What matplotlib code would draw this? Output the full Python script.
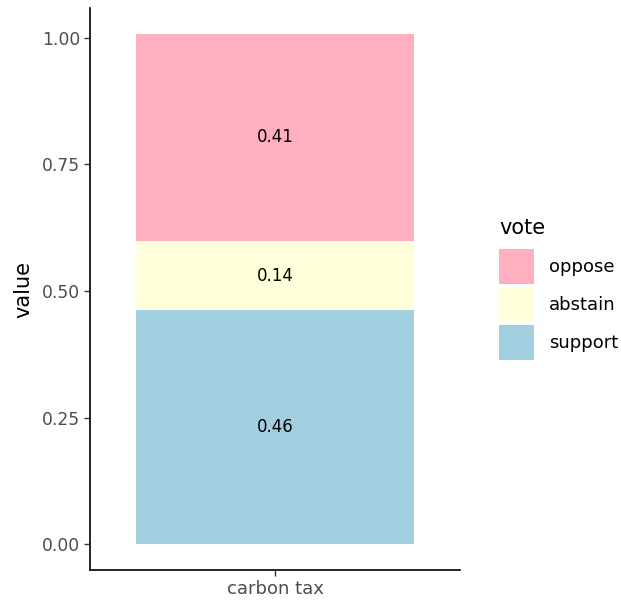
import matplotlib
matplotlib.use("Agg")
import matplotlib.pyplot as plt
from matplotlib.patches import Patch

plt.rcParams['font.family'] = ['DejaVu Sans']

category = "carbon tax"
votes = ["support", "abstain", "oppose"]
values = [0.462, 0.136, 0.41]
colors = {"oppose": "#FFAFC0", "abstain": "#FFFFDC", "support": "#A1CFE0"}
legend_order = ["oppose", "abstain", "support"]
yticks = [0.0, 0.25, 0.50, 0.75, 1.00]
ytick_labels = ["0.00", "0.25", "0.50", "0.75", "1.00"]

fig = plt.figure(figsize=(6.21, 6.05), dpi=100)
ax = fig.add_axes([90/621, 35/605, 370/621, 562/605])

bottom = 0.0
for v, val in zip(votes, values):
    ax.bar([0], [val], bottom=bottom, width=0.9, color=colors[v], linewidth=0)
    ax.text(0, bottom + val/2, f"{val:.2f}", ha="center", va="center", fontsize=12, color="black")
    bottom += val

total = sum(values)
ax.set_ylim(-0.05*total, total*1.05)
ax.set_xlim(-0.6, 0.6)
ax.set_xticks([0])
ax.set_xticklabels([category])
ax.set_yticks(yticks)
ax.set_yticklabels(ytick_labels)
ax.tick_params(axis="both", colors="#333333", labelcolor="#4D4D4D", labelsize=12.3, length=4, width=1)
ax.tick_params(axis="x", labelsize=13, pad=3)
ax.tick_params(axis="y", pad=3)
for s in ["top", "right"]:
    ax.spines[s].set_visible(False)
for s in ["left", "bottom"]:
    ax.spines[s].set_linewidth(1.2)
    ax.spines[s].set_color("black")
ax.set_ylabel("value", fontsize=15, color="black", labelpad=6)

handles = [Patch(facecolor=colors[v], edgecolor="none", label=v) for v in legend_order]
leg = fig.legend(handles=handles, loc="upper left", bbox_to_anchor=(499/621, 1 - 249/605),
                 borderaxespad=0, borderpad=0,
                 frameon=False, fontsize=13, handlelength=1.94, handleheight=2.6,
                 handletextpad=0.82, labelspacing=0.17)
fig.text(499/621, 1 - 228/605, "vote", ha="left", va="center", fontsize=15, color="black")
fig.savefig("out.png", dpi=100)
